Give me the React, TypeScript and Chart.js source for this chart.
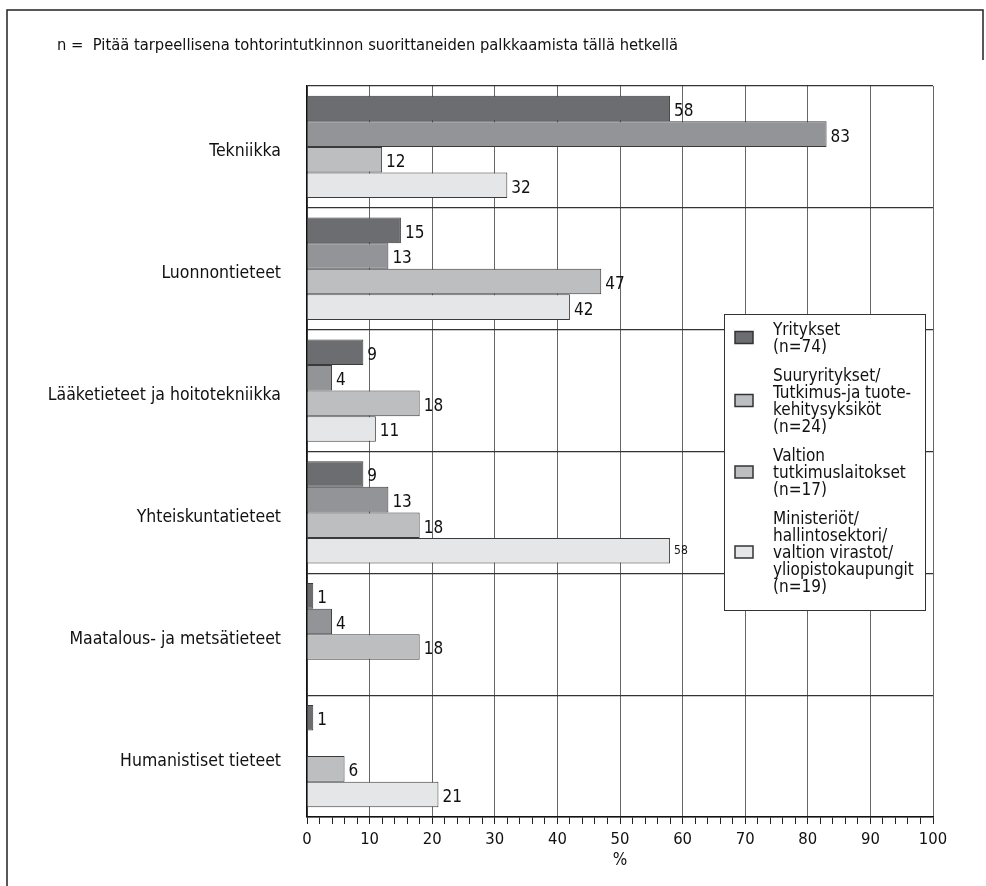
import React, { useEffect, useRef } from "react";
import { Chart, registerables } from "chart.js";

Chart.register(...registerables);

const TITLE = "n =  Pitää tarpeellisena tohtorintutkinnon suorittaneiden palkkaamista tällä hetkellä";
const categories = [
  "Tekniikka",
  "Luonnontieteet",
  "Lääketieteet ja hoitotekniikka",
  "Yhteiskuntatieteet",
  "Maatalous- ja metsätieteet",
  "Humanistiset tieteet",
];
const yritykset = [58, 15, 9, 9, 1, 1];
const suuryritykset = [83, 13, 4, 13, 4, null];
const valtionLaitokset = [12, 47, 18, 18, 18, 6];
const ministeriot = [32, 42, 11, 58, null, 21];
const seriesNames = ["Yritykset", "Suuryritykset", "Valtion tutkimuslaitokset", "Ministeriöt"];
const legendLines = [
  ["Yritykset", "(n=74)"],
  ["Suuryritykset/", "Tutkimus-ja tuote-", "kehitysyksiköt", "(n=24)"],
  ["Valtion", "tutkimuslaitokset", "(n=17)"],
  ["Ministeriöt/", "hallintosektori/", "valtion virastot/", "yliopistokaupungit", "(n=19)"],
];
const xTickMin = 0;
const xTickMax = 100;
const axisTitle = "%";

const FONT = '"Liberation Sans Narrow", "DejaVu Sans Condensed", "Roboto Condensed", "Liberation Sans", sans-serif';
const barColors = ["#6c6d71", "#939498", "#bdbec0", "#e5e6e7"];
const legendColors = ["#6c6d71", "#bdbec0", "#bdbec0", "#e5e6e7"];

const decorPlugin = {
  id: "decor",
  beforeDraw(chart: any) {
    const ctx = chart.ctx;
    ctx.save();
    ctx.fillStyle = "#fff";
    ctx.fillRect(0, 0, chart.width, chart.height);
    ctx.strokeStyle = "#222";
    ctx.lineWidth = 1.5;
    ctx.beginPath();
    ctx.moveTo(7, chart.height);
    ctx.lineTo(7, 10);
    ctx.lineTo(983, 10);
    ctx.lineTo(983, 60);
    ctx.stroke();
    ctx.fillStyle = "#111";
    ctx.font = `16.4px ${FONT}`;
    ctx.textBaseline = "middle";
    ctx.textAlign = "left";
    ctx.fillText(TITLE, 57, 46);
    ctx.restore();
  },
  afterDatasetsDraw(chart: any) {
    const ctx = chart.ctx;
    ctx.save();
    ctx.fillStyle = "#111";
    ctx.textBaseline = "middle";
    ctx.textAlign = "left";
    chart.data.datasets.forEach((ds: any, di: number) => {
      const meta = chart.getDatasetMeta(di);
      meta.data.forEach((bar: any, i: number) => {
        const v = ds.data[i];
        if (v === null || v === undefined) return;
        const small = di === 3 && i === 3;
        ctx.font = `${small ? 12 : 17}px ${FONT}`;
        ctx.fillText(String(v), bar.x + 4, bar.y + (small ? 0 : 3));
      });
    });
    ctx.restore();
  },
  afterDraw(chart: any) {
    const ctx = chart.ctx;
    ctx.save();
    const bx = 724, by = 314, bw = 201, bh = 296;
    ctx.fillStyle = "#fff";
    ctx.fillRect(bx, by, bw, bh);
    ctx.strokeStyle = "#333";
    ctx.lineWidth = 1;
    ctx.strokeRect(bx + 0.5, by + 0.5, bw, bh);
    ctx.font = `17px ${FONT}`;
    ctx.textBaseline = "middle";
    ctx.textAlign = "left";
    const lh = 17;
    let y = 331;
    legendLines.forEach((lines, k) => {
      const first = y;
      lines.forEach((t) => {
        ctx.fillStyle = "#111";
        ctx.fillText(t, 773, y);
        y += lh;
      });
      const last = y - lh;
      const cy = (first + last) / 2 - 2;
      ctx.fillStyle = legendColors[k];
      ctx.fillRect(735, cy - 6, 18, 12);
      ctx.strokeStyle = "#333";
      ctx.lineWidth = 1.5;
      ctx.strokeRect(735, cy - 6, 18, 12);
      y += 12;
    });
    ctx.restore();
  },
};

export default function App() {
  const ref = useRef<HTMLCanvasElement | null>(null);
  useEffect(() => {
    if (!ref.current) return;
    const datasets = [yritykset, suuryritykset, valtionLaitokset, ministeriot].map((d, i) => ({
      label: seriesNames[i],
      data: d,
      backgroundColor: barColors[i],
      borderColor: "#3a3a3a",
      borderWidth: 1,
      categoryPercentage: 0.84,
      barPercentage: 1,
    }));
    const chart = new Chart(ref.current, {
      type: "bar",
      data: { labels: categories, datasets },
      plugins: [decorPlugin],
      options: {
        indexAxis: "y",
        responsive: false,
        animation: false,
        layout: { padding: { left: 0, top: 86, right: 53, bottom: 15 } },
        plugins: { legend: { display: false }, tooltip: { enabled: false }, title: { display: false } },
        scales: {
          x: {
            type: "linear",
            min: xTickMin,
            max: xTickMax,
            afterFit: (s: any) => { s.height = 54; },
            ticks: {
              stepSize: 2,
              autoSkip: false,
              maxRotation: 0,
              padding: 6,
              color: "#111",
              font: { family: FONT, size: 16.5 },
              callback: (v: any) => (Number(v) % 10 === 0 ? String(v) : ""),
            },
            grid: {
              color: (c: any) => (c.tick && c.tick.value % 10 === 0 ? "#666" : "rgba(0,0,0,0)"),
              tickColor: "#222",
              tickLength: 7,
              lineWidth: 1,
            },
            border: { color: "#111", width: 1.5 },
            title: { display: true, text: axisTitle, color: "#111", font: { family: FONT, size: 17 }, padding: 0 },
          },
          y: {
            type: "category",
            afterFit: (s: any) => { s.width = 307; },
            ticks: { color: "#111", font: { family: FONT, size: 17.5 }, padding: 26, labelOffset: 5 },
            grid: { offset: true, color: "#333", lineWidth: 1.2, drawTicks: false },
            border: { color: "#111", width: 1.5 },
          },
        },
      },
    });
    return () => chart.destroy();
  }, []);
  return (
    <div style={{ position: "absolute", left: 0, top: 0, width: 986, height: 886, background: "#fff" }}>
      <canvas ref={ref} width={986} height={886} style={{ display: "block" }} />
    </div>
  );
}
